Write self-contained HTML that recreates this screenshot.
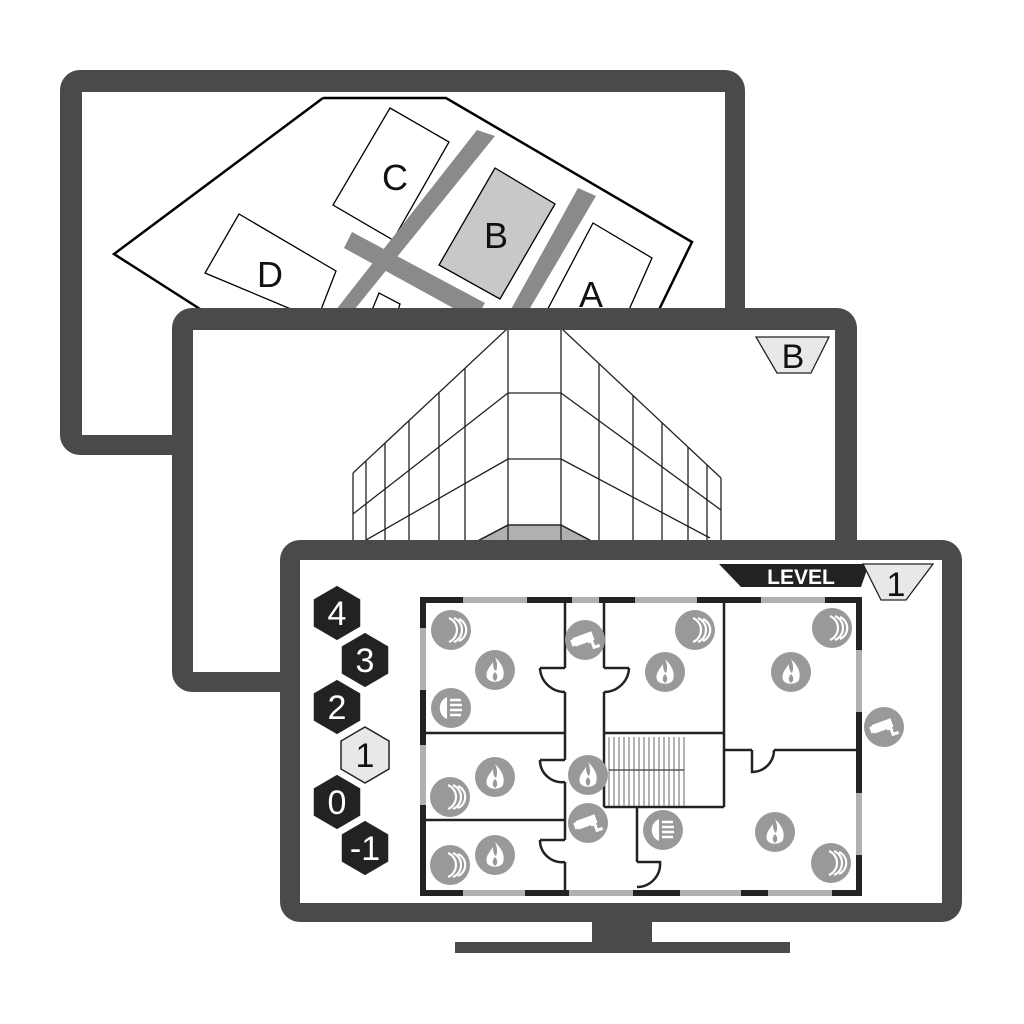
<!DOCTYPE html>
<html><head><meta charset="utf-8"><style>html,body{margin:0;padding:0;background:#fff}svg{display:block}</style></head>
<body>
<svg width="1024" height="1024" viewBox="0 0 1024 1024" xmlns="http://www.w3.org/2000/svg" font-family="Liberation Sans, sans-serif">
<defs>
<clipPath id="c1"><rect x="82" y="92" width="643" height="343"/></clipPath>
<clipPath id="c2"><rect x="193" y="330" width="642" height="342"/></clipPath>
<g id="fire"><circle r="20" fill="#999"/><path d="M0,-13 C8,-5 10,1 8,8 C5,13 -5,13 -8,8 C-10,1 -5,-3 -2,-8 C-2,-3 -1,0 1,1 C3,-3 2,-9 0,-13Z" fill="#fff"/><path d="M0,2 C3,5 3,9 0,11 C-3,9 -3,5 0,2Z" fill="#999"/></g>
<g id="smoke"><circle r="20" fill="#999"/><path d="M-2,-12 A13,13 0 0 1 -2,12 M3,-12 A13,13 0 0 1 3,12 M8,-11 A12,12 0 0 1 8,11" stroke="#fff" stroke-width="2.2" fill="none"/></g>
<g id="spk"><circle r="20" fill="#999"/><path d="M-4,-11 A12,12 0 0 0 -4,11Z" fill="#fff"/><path d="M-1,-8 H10 M-1,-3 H11 M-1,2 H11 M-1,7 H10" stroke="#fff" stroke-width="2.5"/></g>
<g id="cam"><circle r="20" fill="#999"/><g transform="rotate(-20)"><rect x="-11" y="-6" width="20" height="9" fill="#fff"/><rect x="-14" y="-5" width="4" height="7" fill="#fff"/><path d="M2,3 L6,3 L6,10 L12,10" stroke="#fff" stroke-width="3" fill="none"/></g></g>
<path id="hex" d="M0,-28 L24,-14 L24,14 L0,28 L-24,14 L-24,-14Z"/>
</defs>

<!-- TOP MONITOR -->
<rect x="60" y="70" width="685" height="385" rx="20" fill="#4a4a4a"/>
<rect x="82" y="92" width="643" height="343" fill="#fff"/>
<g clip-path="url(#c1)" stroke="#000" stroke-width="1.3">
<path d="M323,98 L446,98 L692,242 L654,320 M323,98 L114,254 L225,325" fill="none" stroke-width="2.5"/>
<polygon points="390,108 449,142 393,240 333,205" fill="#fff"/>
<path d="M477,130 L495,136 L346,320 L328,320Z" fill="#8a8a8a" stroke="none"/>
<path d="M578,188 L596,196 L523,320 L505,320Z" fill="#8a8a8a" stroke="none"/>
<polygon points="352,232 485,303 475,320 344,248" fill="#8a8a8a" stroke="none"/>
<polygon points="495,168 555,204 500,299 439,265" fill="#c8c8c8"/>
<polygon points="593,223 652,258 620,330 542,320" fill="#fff"/>
<polygon points="239,214 336,271 317,320 205,273" fill="#fff"/>
<polygon points="379,293 400,304 395,320 370,315" fill="#fff"/>
</g>
<g font-size="36" text-anchor="middle" fill="#111">
<text x="395" y="190">C</text><text x="496" y="248">B</text><text x="270" y="287">D</text><text x="591" y="307">A</text>
</g>

<!-- MIDDLE MONITOR -->
<rect x="172" y="308" width="685" height="384" rx="20" fill="#4a4a4a"/>
<rect x="193" y="330" width="642" height="342" fill="#fff"/>
<g clip-path="url(#c2)" stroke="#222" stroke-width="1.3" fill="none">
<polygon points="508,525 561,525 599,545 470,545" fill="#b0b0b0"/>
<path d="M508,328 V545 M561,328 V545 M508,328 H561 M508,393 H561 M508,459 H561 M508,525 H561"/>
<path d="M508,328 L353,473 M508,393 L353,514 M508,459 L366,540 M508,525 L470,545"/>
<path d="M561,328 L721,478 M561,393 L721,510 M561,459 L710,538 M561,525 L599,545"/>
<path d="M353,473 V545 M366,461 V545 M385,443 V545 M409,421 V545 M439,393 V545 M465,368 V545"/>
<path d="M721,478 V545 M707,465 V545 M688,447 V545 M662,423 V545 M633,396 V545 M599,364 V545"/>
</g>
<polygon points="756,337 829,337 811,373 777,373" fill="#e8e8e8" stroke="#222" stroke-width="1.3"/>
<text x="793" y="368" font-size="34" text-anchor="middle" fill="#111">B</text>

<!-- BOTTOM MONITOR -->
<rect x="592" y="915" width="60" height="32" fill="#4a4a4a"/>
<rect x="455" y="942" width="335" height="11" fill="#4a4a4a"/>
<rect x="280" y="540" width="682" height="382" rx="20" fill="#4a4a4a"/>
<rect x="300" y="560" width="642" height="343" fill="#fff"/>

<!-- level badge -->
<polygon points="719,564 869,564 861,587 741,587" fill="#222"/>
<text x="801" y="584" font-size="21" font-weight="bold" text-anchor="middle" fill="#fff">LEVEL</text>
<polygon points="863,564 933,564 906,600 881,600" fill="#e8e8e8" stroke="#222" stroke-width="1.3"/>
<text x="896" y="596" font-size="34" text-anchor="middle" fill="#111">1</text>

<!-- hexagons -->
<g font-size="34" text-anchor="middle">
<use href="#hex" x="337" y="613" fill="#222" stroke="#fff" stroke-width="1.5"/><text x="337" y="625" fill="#fff">4</text>
<use href="#hex" x="365" y="660" fill="#222" stroke="#fff" stroke-width="1.5"/><text x="365" y="672" fill="#fff">3</text>
<use href="#hex" x="337" y="707" fill="#222" stroke="#fff" stroke-width="1.5"/><text x="337" y="719" fill="#fff">2</text>
<use href="#hex" x="365" y="755" fill="#e8e8e8" stroke="#222" stroke-width="1.5"/><text x="365" y="767" fill="#111">1</text>
<use href="#hex" x="337" y="802" fill="#222" stroke="#fff" stroke-width="1.5"/><text x="337" y="814" fill="#fff">0</text>
<use href="#hex" x="365" y="848" fill="#222" stroke="#fff" stroke-width="1.5"/><text x="365" y="860" fill="#fff">-1</text>
</g>

<!-- floor plan outer walls -->
<rect x="423" y="600" width="436" height="293" fill="none" stroke="#222" stroke-width="6"/>
<g stroke="#b0b0b0" stroke-width="6">
<path d="M463,600 H527 M572,600 H599 M635,600 H697 M761,600 H825"/>
<path d="M463,893 H525 M569,893 H633 M680,893 H741 M768,893 H832"/>
<path d="M423,628 V690 M423,745 V805"/>
<path d="M859,650 V712 M859,793 V855"/>
</g>
<!-- interior walls -->
<g stroke="#222" stroke-width="2.5" fill="none">
<path d="M565,600 V668 M565,692 V760 M565,782 V840 M565,862 V893"/>
<path d="M604,600 V668 M604,692 V807"/>
<path d="M426,733 H565 M426,820 H565"/>
<path d="M604,733 H724 M724,600 V807 M604,807 H724"/>
<path d="M724,750 H752 M774,750 H859"/>
<path d="M637,807 V862"/>
<path d="M540,668 H565 M540,668 A25,25 0 0 0 565,692"/>
<path d="M629,668 H604 M629,668 A25,25 0 0 1 604,692"/>
<path d="M540,760 H565 M540,760 A22,22 0 0 0 565,782"/>
<path d="M540,840 H565 M540,840 A22,22 0 0 0 565,862"/>
<path d="M752,750 V772 A22,22 0 0 0 774,750"/>
<path d="M637,862 H660 A23,23 0 0 1 637,887"/>
</g>
<g stroke="#555" stroke-width="0.9">
<path d="M609,737 V806 M614,737 V806 M619,737 V806 M624,737 V806 M629,737 V806 M634,737 V806 M639,737 V806 M644,737 V806 M649,737 V806 M654,737 V806 M659,737 V806 M664,737 V806 M669,737 V806 M674,737 V806 M679,737 V806 M684,737 V806"/>
<path d="M609,770 H684" stroke-width="1.5"/>
</g>

<!-- icons -->
<use href="#smoke" x="451" y="630"/><use href="#smoke" x="695" y="630"/><use href="#smoke" x="832" y="628"/>
<use href="#smoke" x="450" y="797"/><use href="#smoke" x="450" y="865"/><use href="#smoke" x="831" y="863"/>
<use href="#fire" x="495" y="670"/><use href="#fire" x="665" y="672"/><use href="#fire" x="791" y="672"/>
<use href="#fire" x="495" y="777"/><use href="#fire" x="588" y="775"/><use href="#fire" x="495" y="855"/><use href="#fire" x="775" y="832"/>
<use href="#cam" x="585" y="640"/><use href="#cam" x="884" y="727"/><use href="#cam" x="588" y="823"/>
<use href="#spk" x="451" y="708"/><use href="#spk" x="663" y="830"/>
</svg>
</body></html>
